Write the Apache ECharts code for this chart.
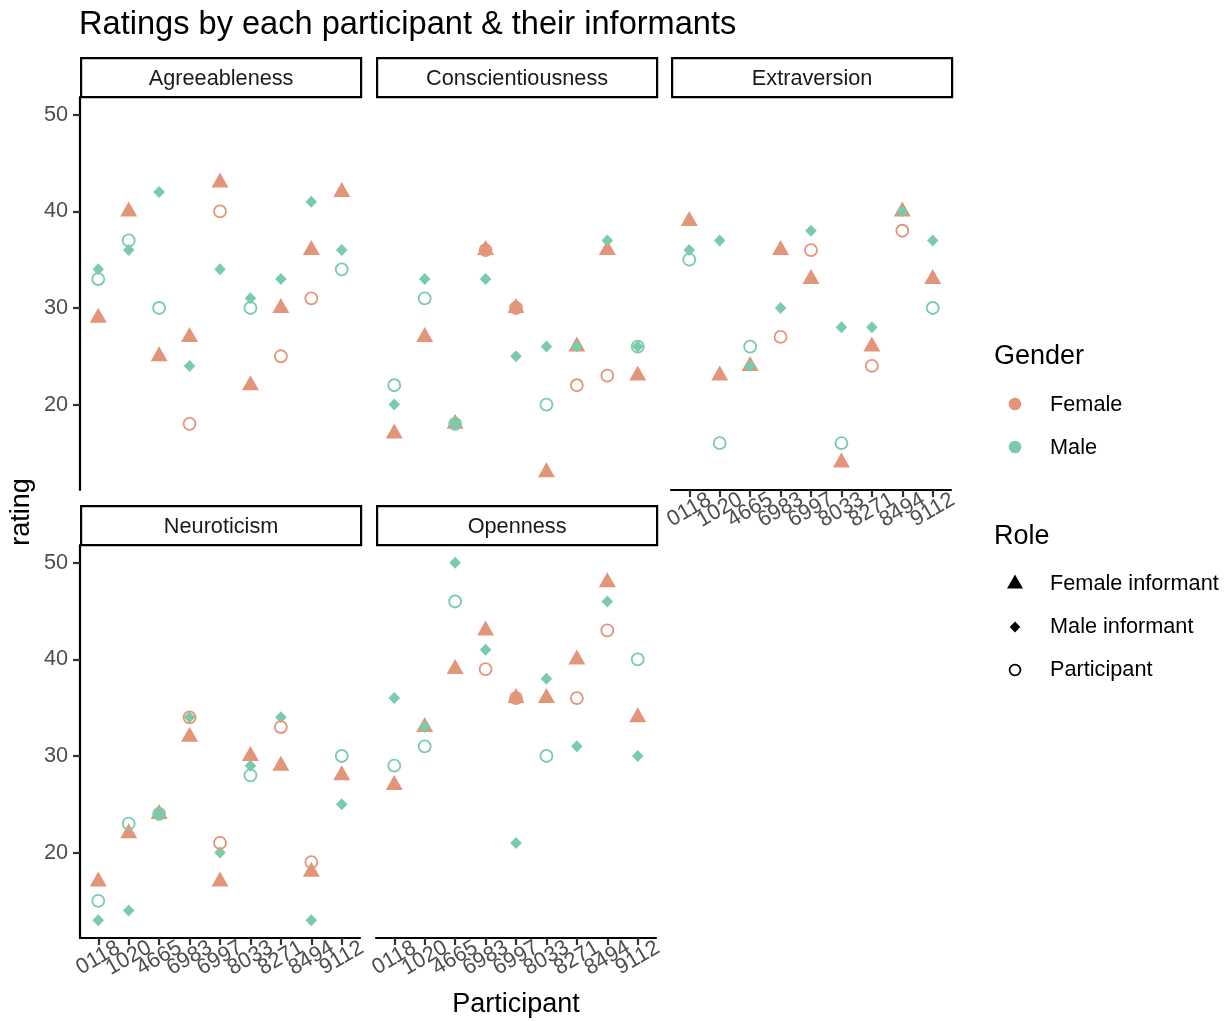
<!DOCTYPE html>
<html>
<head>
<meta charset="utf-8">
<script src="https://cdn.jsdelivr.net/npm/echarts@6/dist/echarts.min.js"></script>
<style>
html,body{margin:0;padding:0;background:#fff;}
#chart{width:1225px;height:1021px;}
</style>
</head>
<body>
<div id="chart"></div>
<script>
// ---- data ----
const participants = ['0118','1020','4665','6983','6997','8033','8271','8494','9112'];
const participantGender = ['Male','Male','Male','Female','Female','Male','Female','Female','Male'];
const traits = ['Agreeableness','Conscientiousness','Extraversion','Neuroticism','Openness'];
const yTicks = [20, 30, 40, 50];

const agreeablenessSelf      = [33, 37, 30, 18, 40, 30, 25, 31, 34];
const agreeablenessFemaleInf = [29, 40, 25, 27, 43, 22, 30, 36, 42];
const agreeablenessMaleInf   = [34, 36, 42, 24, 34, 31, 33, 41, 36];

const conscientiousnessSelf      = [22, 31, 18, 36, 30, 20, 22, 23, 26];
const conscientiousnessFemaleInf = [17, 27, 18, 36, 30, 13, 26, 36, 23];
const conscientiousnessMaleInf   = [20, 33, 18, 33, 25, 26, 26, 37, 26];

const extraversionSelf      = [35, 16, 26, 27, 36, 16, 24, 38, 30];
const extraversionFemaleInf = [39, 23, 24, 36, 33, 14, 26, 40, 33];
const extraversionMaleInf   = [36, 37, 24, 30, 38, 28, 28, 40, 37];

const neuroticismSelf      = [15, 23, 24, 34, 21, 28, 33, 19, 30];
const neuroticismFemaleInf = [17, 22, 24, 32, 17, 30, 29, 18, 28];
const neuroticismMaleInf   = [13, 14, 24, 34, 20, 29, 34, 13, 25];

const opennessSelf      = [29, 31, 46, 39, 36, 30, 36, 43, 40];
const opennessFemaleInf = [27, 33, 39, 43, 36, 36, 40, 48, 34];
const opennessMaleInf   = [36, 33, 50, 41, 21, 38, 31, 46, 30];

const selfByTrait = [agreeablenessSelf, conscientiousnessSelf, extraversionSelf, neuroticismSelf, opennessSelf];
const femaleByTrait = [agreeablenessFemaleInf, conscientiousnessFemaleInf, extraversionFemaleInf, neuroticismFemaleInf, opennessFemaleInf];
const maleByTrait = [agreeablenessMaleInf, conscientiousnessMaleInf, extraversionMaleInf, neuroticismMaleInf, opennessMaleInf];

// ---- styles / layout ----
const FEMALE = '#E3957A';
const MALE = '#7ACBA9';
const genderColor = { Female: FEMALE, Male: MALE };
const FONT = '"Liberation Sans", Arial, Helvetica, sans-serif';
const TICK_FS = 21.7;

const panels = [
  { left: 80,  top: 97,  showY: true,  showX: false },
  { left: 376, top: 97,  showY: false, showX: false },
  { left: 671, top: 97,  showY: false, showX: true  },
  { left: 80,  top: 545, showY: true,  showX: true  },
  { left: 376, top: 545, showY: false, showX: true  }
];
const PW = 280, PH = 393;
const STRIP_H = 39;

const grids = [], xAxes = [], yAxes = [], series = [], graphics = [];
const evenIdx = participants.map((p, i) => i).filter(i => i % 2 === 0);
const oddIdx = participants.map((p, i) => i).filter(i => i % 2 === 1);

function makeXAxis(k, show, values, withLine) {
  return {
    type: 'value', gridIndex: k, position: 'bottom', offset: 0,
    min: -0.6, max: 8.6, show: show,
    axisLine: { show: withLine, onZero: false, lineStyle: { color: '#000', width: 2.2 } },
    axisTick: { show: true, customValues: values, length: 7, lineStyle: { color: '#333', width: 2.2 } },
    axisLabel: {
      customValues: values, rotate: 30, margin: 20, color: '#4D4D4D',
      align: 'center', verticalAlign: 'middle',
      fontSize: TICK_FS, fontFamily: FONT, showMinLabel: true, showMaxLabel: true,
      formatter: v => participants[Math.round(v)]
    },
    splitLine: { show: false }
  };
}

panels.forEach((p, k) => {
  grids.push({ left: p.left, top: p.top, width: PW, height: PH });
  // two x axes per panel (even / odd participants) so every rotated label is kept
  xAxes.push(makeXAxis(k, p.showX, evenIdx, true));
  const oddAxisIndex = xAxes.length;
  xAxes.push(makeXAxis(k, p.showX, oddIdx, false));
  const mainX = oddAxisIndex - 1;
  yAxes.push({
    type: 'value', gridIndex: k, min: 11.15, max: 51.85, show: p.showY,
    axisLine: { show: true, onZero: false, lineStyle: { color: '#000', width: 2.2 } },
    axisTick: { show: true, customValues: yTicks, length: 7, lineStyle: { color: '#333', width: 2.2 } },
    axisLabel: { customValues: yTicks, margin: 12, color: '#4D4D4D', fontSize: TICK_FS, fontFamily: FONT },
    splitLine: { show: false }
  });
  // female informant: triangles
  series.push({
    type: 'scatter', name: 'Female informant', xAxisIndex: mainX, yAxisIndex: k,
    symbol: 'triangle', symbolSize: [17, 15], symbolOffset: [0, -2.5],
    itemStyle: { color: FEMALE, opacity: 1 },
    data: femaleByTrait[k].map((v, i) => [i, v]), z: 2
  });
  // male informant: diamonds
  series.push({
    type: 'scatter', name: 'Male informant', xAxisIndex: mainX, yAxisIndex: k,
    symbol: 'diamond', symbolSize: [11.5, 12],
    itemStyle: { color: MALE, opacity: 1 },
    data: maleByTrait[k].map((v, i) => [i, v]), z: 3
  });
  // participant: hollow circles coloured by participant gender
  series.push({
    type: 'scatter', name: 'Participant', xAxisIndex: mainX, yAxisIndex: k,
    symbol: 'circle', symbolSize: 12,
    itemStyle: { color: 'rgba(0,0,0,0)', borderWidth: 1.8, opacity: 1 },
    data: selfByTrait[k].map((v, i) => ({
      value: [i, v],
      itemStyle: { color: 'rgba(0,0,0,0)', borderColor: genderColor[participantGender[i]], borderWidth: 1.8 }
    })), z: 4
  });
  // strip
  graphics.push({
    type: 'group', left: p.left, top: p.top - STRIP_H - 1, children: [
      { type: 'rect', shape: { x: 0, y: 0, width: PW, height: STRIP_H },
        style: { fill: '#fff', stroke: '#000', lineWidth: 2.2 } },
      { type: 'text', x: PW / 2, y: STRIP_H / 2 + 1,
        style: { text: traits[k], font: `${TICK_FS}px ${FONT}`, fill: '#1A1A1A', align: 'center', verticalAlign: 'middle' } }
    ]
  });
});

// axis titles
graphics.push({ type: 'text', x: 22, y: 512, rotation: Math.PI / 2,
  style: { text: 'rating', font: `27px ${FONT}`, fill: '#000', align: 'center', verticalAlign: 'middle' } });
graphics.push({ type: 'text', x: 516, y: 1005,
  style: { text: 'Participant', font: `27px ${FONT}`, fill: '#000', align: 'center', verticalAlign: 'middle' } });

// legends
const LEG_TXT = `${TICK_FS}px ${FONT}`;
graphics.push({ type: 'text', x: 994, y: 357, style: { text: 'Gender', font: `27px ${FONT}`, fill: '#000', verticalAlign: 'middle' } });
graphics.push({ type: 'circle', shape: { cx: 1015, cy: 404, r: 6.3 }, style: { fill: FEMALE } });
graphics.push({ type: 'text', x: 1050, y: 405, style: { text: 'Female', font: LEG_TXT, fill: '#000', verticalAlign: 'middle' } });
graphics.push({ type: 'circle', shape: { cx: 1015, cy: 447, r: 6.3 }, style: { fill: MALE } });
graphics.push({ type: 'text', x: 1050, y: 448, style: { text: 'Male', font: LEG_TXT, fill: '#000', verticalAlign: 'middle' } });

graphics.push({ type: 'text', x: 994, y: 537, style: { text: 'Role', font: `27px ${FONT}`, fill: '#000', verticalAlign: 'middle' } });
graphics.push({ type: 'polygon', shape: { points: [[1015, 574.5], [1023, 588.5], [1007, 588.5]] }, style: { fill: '#000' } });
graphics.push({ type: 'text', x: 1050, y: 584, style: { text: 'Female informant', font: LEG_TXT, fill: '#000', verticalAlign: 'middle' } });
graphics.push({ type: 'polygon', shape: { points: [[1015, 621.5], [1020.3, 627], [1015, 632.5], [1009.7, 627]] }, style: { fill: '#000' } });
graphics.push({ type: 'text', x: 1050, y: 627, style: { text: 'Male informant', font: LEG_TXT, fill: '#000', verticalAlign: 'middle' } });
graphics.push({ type: 'circle', shape: { cx: 1015, cy: 670, r: 5.4 }, style: { fill: 'none', stroke: '#000', lineWidth: 1.7 } });
graphics.push({ type: 'text', x: 1050, y: 670, style: { text: 'Participant', font: LEG_TXT, fill: '#000', verticalAlign: 'middle' } });

const chart = echarts.init(document.getElementById('chart'), null, { renderer: 'canvas' });
chart.setOption({
  animation: false,
  backgroundColor: '#fff',
  title: {
    text: 'Ratings by each participant & their informants',
    left: 79, top: 9, padding: 0,
    textStyle: { fontSize: 32.6, fontWeight: 'normal', color: '#000', fontFamily: FONT }
  },
  grid: grids,
  xAxis: xAxes,
  yAxis: yAxes,
  series: series,
  graphic: graphics
});
</script>
</body>
</html>
